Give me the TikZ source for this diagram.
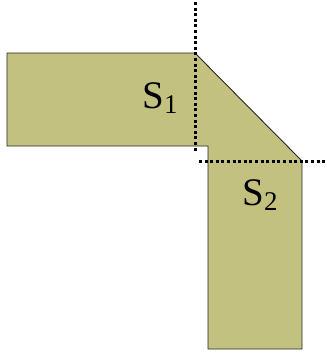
\documentclass[tikz,border=0pt]{standalone}
\usepackage{fontspec}
\setmainfont{Liberation Serif}
\usepackage{tikz}
\definecolor{khaki}{RGB}{195,193,128}

\newcommand{\sub}[1]{\raisebox{-0.32ex}{\fontsize{27}{28}\selectfont #1}}

\begin{document}
\begin{tikzpicture}[
    x=1pt, y=-1pt,
    region/.style={fill=khaki, draw=black!85, line width=0.9pt, line join=miter},
    cut/.style={line width=3pt, dash pattern=on 3pt off 2.6pt, black},
    label/.style={font=\fontsize{39}{40}\selectfont, inner sep=0pt}
  ]
    \useasboundingbox (0,0) rectangle (327,354);

    % the bent strip
    \draw[region] (7,53) -- (195,53) -- (302,161) -- (302,349) -- (208,349)
        -- (208,146) -- (7,146) -- cycle;

    % cut lines
    \draw[cut] (195,2) -- (195,153);
    \draw[cut] (199,161) -- (327,161);

    \node[label] (s1) at (160,98) {S\sub{1}};
    \node[label] (s2) at (260,195) {S\sub{2}};
  \end{tikzpicture}
\end{document}
